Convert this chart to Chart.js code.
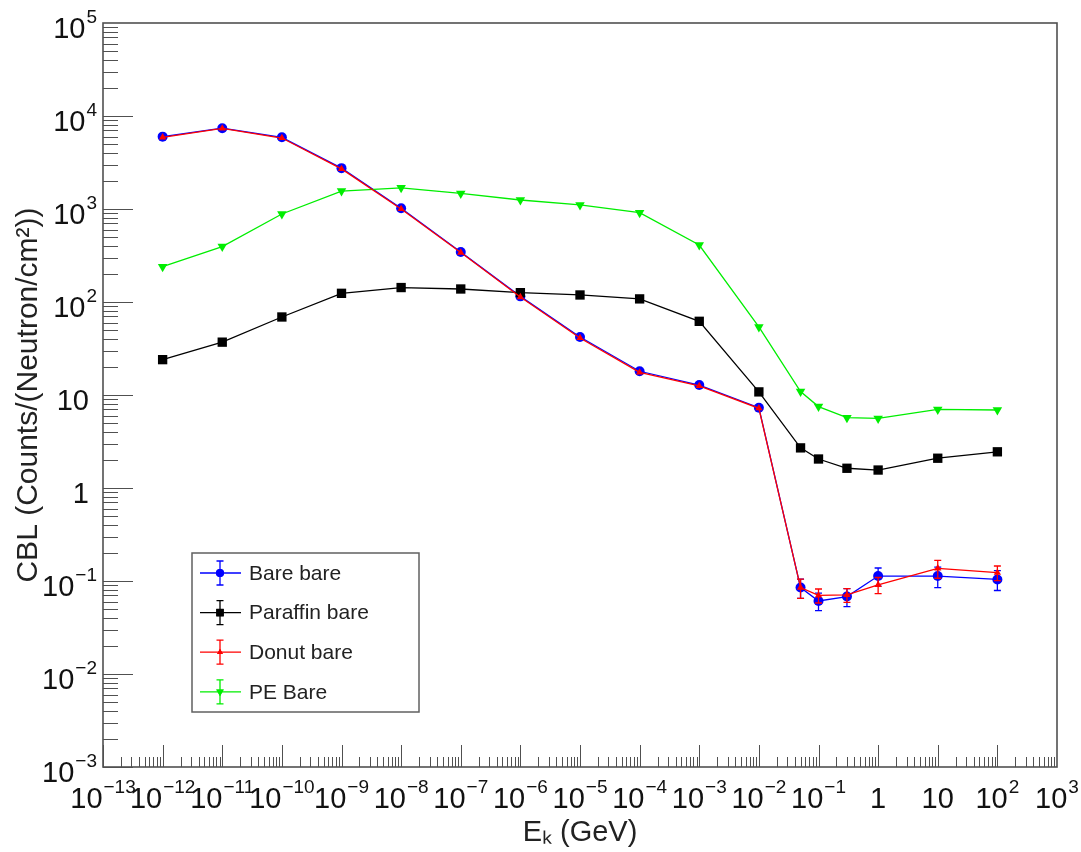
<!DOCTYPE html>
<html>
<head>
<meta charset="utf-8">
<script src="https://cdn.jsdelivr.net/npm/chart.js@4"></script>
<style>
  body { margin: 0; background: #fff; }
  #wrap { width: 1081px; height: 852px; position: relative; }
</style>
</head>
<body>
<div id="wrap"><canvas id="cblChart"></canvas></div>
<script>
// energies in GeV
const energies = [1e-12, 1e-11, 1e-10, 1e-9, 1e-8, 1e-7, 1e-6, 1e-5, 1e-4, 1e-3, 1e-2, 0.05, 0.1, 0.3, 1, 10, 100];

const bareBare     = [6000, 7400, 5900, 2750, 1020, 345, 115, 42, 18, 12.8, 7.3, 0.085, 0.061, 0.068, 0.113, 0.113, 0.104];
const bareBareErr  = [0, 0, 0, 0, 0, 0, 0, 0, 0, 0, 0, 0.02, 0.013, 0.015, 0.025, 0.028, 0.025];
const paraffinBare = [24, 37, 69, 124, 143, 138, 126, 119, 108, 62, 10.8, 2.7, 2.05, 1.63, 1.56, 2.09, 2.45];
const paraffinErr  = [0, 0, 0, 0, 0, 0, 0, 0, 0, 0, 0, 0, 0, 0, 0, 0, 0];
const donutBare    = [5900, 7350, 5800, 2700, 1000, 340, 113, 41, 17.5, 12.5, 7.2, 0.085, 0.07, 0.071, 0.091, 0.137, 0.123];
const donutErr     = [0, 0, 0, 0, 0, 0, 0, 0, 0, 0, 0, 0.02, 0.012, 0.012, 0.018, 0.03, 0.022];
const peBare       = [240, 394, 884, 1560, 1690, 1470, 1250, 1105, 912, 410, 54, 10.9, 7.5, 5.7, 5.6, 7.0, 6.9];
const peErr        = [0, 0, 0, 0, 0, 0, 0, 0, 0, 0, 0, 0, 0, 0, 0, 0, 0];

// tick labels, "base^exponent"
const xTicks = [1e-13, 1e-12, 1e-11, 1e-10, 1e-9, 1e-8, 1e-7, 1e-6, 1e-5, 1e-4, 1e-3, 1e-2, 1e-1, 1, 10, 100, 1000];
const xTickLabels = ['10^−13', '10^−12', '10^−11', '10^−10', '10^−9', '10^−8', '10^−7', '10^−6', '10^−5', '10^−4', '10^−3', '10^−2', '10^−1', '1', '10', '10^2', '10^3'];
const yTicks = [1e-3, 1e-2, 1e-1, 1, 10, 100, 1e3, 1e4, 1e5];
const yTickLabels = ['10^−3', '10^−2', '10^−1', '1', '10', '10^2', '10^3', '10^4', '10^5'];

const FONT = "'Liberation Sans', Arial, Helvetica, sans-serif";
Chart.defaults.font.family = FONT;
Chart.defaults.color = '#111';

function toPoints(vals, errs){
	return vals.map((v, i) => ({x: energies[i], y: v, err: errs[i]}));
}

const series = [
	{label: 'Bare bare', values: bareBare, errs: bareBareErr, color: '#0000ff', style: 'circle', radius: 5, rotation: 0, order: 3},
	{label: 'Paraffin bare', values: paraffinBare, errs: paraffinErr, color: '#000000', style: 'rect', radius: 6.6, rotation: 0, order: 2},
	{label: 'Donut bare', values: donutBare, errs: donutErr, color: '#ff0000', style: 'triangle', radius: 4.2, rotation: 0, order: 0},
	{label: 'PE Bare', values: peBare, errs: peErr, color: '#00ee00', style: 'triangle', radius: 5.5, rotation: 180, order: 1}
];

// vertical error bars, drawn under each dataset's markers
const errorBars = {
	id: 'errorBars',
	beforeDatasetDraw(chart, args){
		const ds = chart.data.datasets[args.index];
		const y = chart.scales.y;
		const ctx = chart.ctx;
		ctx.save();
		ctx.strokeStyle = ds.borderColor;
		ctx.lineWidth = 1.3;
		ctx.beginPath();
		args.meta.data.forEach((pt, i) => {
			const e = ds.data[i].err;
			if(!e) return;
			const v = ds.data[i].y;
			const top = y.getPixelForValue(v + e);
			const bot = y.getPixelForValue(Math.max(v - e, 1e-4));
			ctx.moveTo(pt.x, top); ctx.lineTo(pt.x, bot);
			ctx.moveTo(pt.x - 3.5, top); ctx.lineTo(pt.x + 3.5, top);
			ctx.moveTo(pt.x - 3.5, bot); ctx.lineTo(pt.x + 3.5, bot);
		});
		ctx.stroke();
		ctx.restore();
	}
};

// ROOT-like frame with inward ticks
const rootFrame = {
	id: 'rootFrame',
	afterDatasetsDraw(chart){
		const {ctx, chartArea: a, scales: {x, y}} = chart;
		ctx.save();
		ctx.strokeStyle = '#505050';
		ctx.lineWidth = 1;
		ctx.beginPath();
		for(let d = -13; d < 3; d++){
			for(let m = 1; m < 10; m++){
				const px = Math.round(x.getPixelForValue(m * Math.pow(10, d))) + 0.5;
				const len = m === 1 ? 22 : 10;
				ctx.moveTo(px, a.bottom); ctx.lineTo(px, a.bottom - len);
			}
		}
		for(let d = -3; d < 5; d++){
			for(let m = 1; m < 10; m++){
				const py = Math.round(y.getPixelForValue(m * Math.pow(10, d))) + 0.5;
				const len = m === 1 ? 30 : 15;
				ctx.moveTo(a.left, py); ctx.lineTo(a.left + len, py);
			}
		}
		ctx.stroke();
		ctx.lineWidth = 1.6;
		ctx.strokeRect(a.left, a.top, a.right - a.left, a.bottom - a.top);
		ctx.restore();
	}
};

// tick labels with raised exponents, placed by the chart's scales
function drawPowerLabel(ctx, text, px, baseline, align){
	const [base, exp] = text.split('^');
	ctx.font = '29px ' + FONT;
	const bw = ctx.measureText(base).width;
	let ew = 0;
	if(exp){
		ctx.font = '19px ' + FONT;
		ew = ctx.measureText(exp).width + 1;
	}
	let left;
	if(align === 'center') left = px - (bw + ew) / 2;
	else left = px - bw - ew;
	ctx.font = '29px ' + FONT;
	ctx.fillText(base, left, baseline);
	if(exp){
		ctx.font = '19px ' + FONT;
		ctx.fillText(exp, left + bw + 1, baseline - 15);
	}
}

const tickLabels = {
	id: 'tickLabels',
	afterDraw(chart){
		const {ctx, chartArea: a, scales: {x, y}} = chart;
		ctx.save();
		ctx.fillStyle = '#111';
		ctx.textAlign = 'left';
		ctx.textBaseline = 'alphabetic';
		xTicks.forEach((v, i) => {
			drawPowerLabel(ctx, xTickLabels[i], x.getPixelForValue(v), a.bottom + 41, 'center');
		});
		yTicks.forEach((v, i) => {
			const lbl = yTickLabels[i];
			const right = lbl.includes('^') ? a.left - 6 : a.left - 14;
			drawPowerLabel(ctx, lbl, right, y.getPixelForValue(v) + 15, 'right');
		});
		ctx.restore();
	}
};

// legend box in the lower left of the pad
const boxLegend = {
	id: 'boxLegend',
	afterDraw(chart){
		const {ctx, chartArea: a} = chart;
		const left = a.left + 89, top = a.top + 530, w = 227, h = 159;
		ctx.save();
		ctx.fillStyle = '#fff';
		ctx.fillRect(left, top, w, h);
		ctx.strokeStyle = '#606060';
		ctx.lineWidth = 1.5;
		ctx.strokeRect(left, top, w, h);
		series.forEach((s, i) => {
			const cy = top + 20 + i * 39.6;
			const cx = left + 28;
			ctx.strokeStyle = s.color;
			ctx.lineWidth = 1.3;
			ctx.beginPath();
			ctx.moveTo(left + 8, cy); ctx.lineTo(left + 49, cy);
			ctx.moveTo(cx, cy - 12); ctx.lineTo(cx, cy + 12);
			ctx.moveTo(cx - 3.5, cy - 12); ctx.lineTo(cx + 3.5, cy - 12);
			ctx.moveTo(cx - 3.5, cy + 12); ctx.lineTo(cx + 3.5, cy + 12);
			ctx.stroke();
			ctx.fillStyle = s.color;
			Chart.helpers.drawPoint(ctx, {pointStyle: s.style, radius: s.radius * 0.8, rotation: s.rotation, borderWidth: 0}, cx, cy);
			ctx.fill();
			ctx.fillStyle = '#222';
			ctx.font = '21px ' + FONT;
			ctx.textBaseline = 'middle';
			ctx.fillText(s.label, left + 57, cy + 1);
		});
		ctx.restore();
	}
};

const ctx = document.getElementById('cblChart').getContext('2d');
new Chart(ctx, {
	type: 'line',
	data: {
		datasets: series.map(s => ({
			label: s.label,
			data: toPoints(s.values, s.errs),
			borderColor: s.color,
			backgroundColor: s.color,
			borderWidth: 1.3,
			pointStyle: s.style,
			pointRadius: s.radius,
			pointRotation: s.rotation,
			pointBorderWidth: 0,
			tension: 0,
			order: s.order
		}))
	},
	options: {
		responsive: true,
		maintainAspectRatio: false,
		animation: false,
		layout: {padding: {left: 0, right: 24, top: 23, bottom: 0}},
		plugins: {
			legend: {display: false},
			tooltip: {enabled: false}
		},
		scales: {
			x: {
				type: 'logarithmic',
				min: 1e-13,
				max: 1e3,
				grid: {display: false, drawTicks: false},
				border: {display: false},
				afterBuildTicks: scale => { scale.ticks = xTicks.map(v => ({value: v})); },
				afterFit: scale => { scale.height = 85; scale.paddingLeft = 0; scale.paddingRight = 0; },
				ticks: {display: false},
				title: {
					display: true,
					text: 'Eₖ (GeV)',
					font: {size: 29, lineHeight: 1.2},
					color: '#222',
					padding: {top: 0, bottom: 2}
				}
			},
			y: {
				type: 'logarithmic',
				min: 1e-3,
				max: 1e5,
				grid: {display: false, drawTicks: false},
				border: {display: false},
				afterBuildTicks: scale => { scale.ticks = yTicks.map(v => ({value: v})); },
				afterFit: scale => { scale.width = 103; scale.paddingTop = 0; scale.paddingBottom = 0; },
				ticks: {display: false},
				title: {
					display: true,
					text: 'CBL (Counts/(Neutron/cm²))',
					font: {size: 30, lineHeight: 1.2},
					color: '#222',
					padding: {top: 11, bottom: 0}
				}
			}
		}
	},
	plugins: [errorBars, rootFrame, tickLabels, boxLegend]
});
</script>
</body>
</html>
